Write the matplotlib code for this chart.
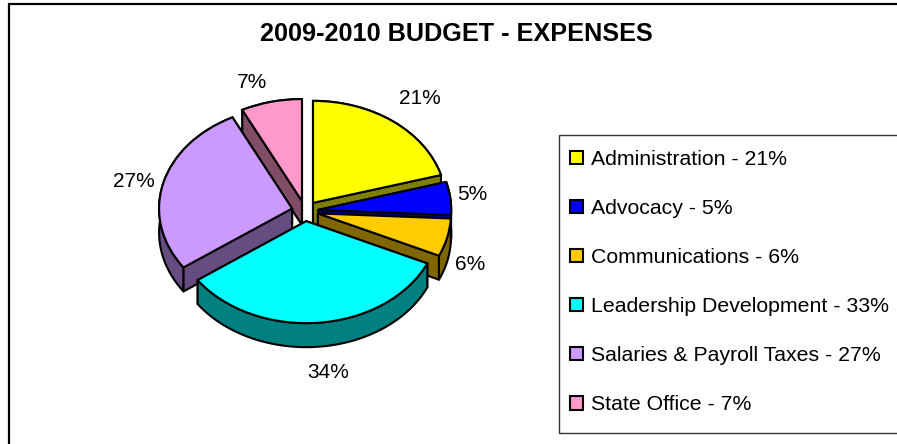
"""Exploded 3D-look pie of the 2009-2010 budget expenses."""

import matplotlib

matplotlib.use("Agg")
from matplotlib import pyplot as plt
from matplotlib.patches import Patch, Polygon, Rectangle
import numpy as np

# ------------------- Chart data ----------------------

CATEGORIES = [
    "Administration",
    "Advocacy",
    "Communications",
    "Leadership Development",
    "Salaries & Payroll Taxes",
    "State Office",
]
VALUES = [20.6, 5.2, 6.0, 33.4, 27.4, 7.4]  # Slice sizes
PIE_PERCENTS = [21, 5, 6, 34, 27, 7]  # As printed next to the pie
LEGEND_PERCENTS = [21, 5, 6, 33, 27, 7]  # The legend rounds Leadership Development down
TITLE = "2009-2010 BUDGET - EXPENSES"

# ------------------- Style settings ----------------------

TOP_COLORS = ["#ffff00", "#0000ff", "#ffcc00", "#00ffff", "#cc99ff", "#ff99cc"]
SIDE_COLORS = ["#808000", "#000080", "#806600", "#008080", "#664c80", "#804c66"]
DRAW_ORDER = [0, 5, 1, 4, 2, 3]  # Back to front
LABEL_PIXELS = [(420, 99), (472, 194), (470, 264), (328, 372), (134, 181), (252, 82)]

WIDTH, HEIGHT = 897, 444
CENTER_X, CENTER_Y = 305, 211  # Pie centre in pixels
RADIUS_X, RADIUS_Y = 133, 102  # Pixels per pie radius
DEPTH = 24 / RADIUS_Y  # Extrusion in data units
LINE_WIDTH = 1.5
FONT_SIZE = 15
LEGEND_FONT_SIZE = 15.35


def to_data(x_pixel: float, y_pixel: float) -> tuple[float, float]:
    """Convert picture pixels (y down) to pie data coordinates."""
    return (x_pixel - CENTER_X) / RADIUS_X, (CENTER_Y - y_pixel) / RADIUS_Y


def add_sides(ax, wedge, color: str, zorder: float) -> None:
    """Draw the extruded radial faces and rim of one pie wedge."""
    cx, cy = wedge.center
    theta = np.radians(np.linspace(wedge.theta1, wedge.theta2, 80))
    rim_x = cx + wedge.r * np.cos(theta)
    rim_y = cy + wedge.r * np.sin(theta)

    faces = [
        (np.array([cx, rim_x[0]]), np.array([cy, rim_y[0]])),
        (np.array([cx, rim_x[-1]]), np.array([cy, rim_y[-1]])),
        (rim_x, rim_y),
    ]
    # Faces further back go first so hidden edges do not show through
    faces.sort(key=lambda face: -face[1].mean())
    for xs, ys in faces:
        outline = np.column_stack(
            [np.r_[xs, xs[::-1]], np.r_[ys, ys[::-1] - DEPTH]]
        )
        ax.add_patch(
            Polygon(
                outline,
                closed=True,
                facecolor=color,
                edgecolor="black",
                linewidth=LINE_WIDTH,
                joinstyle="round",
                zorder=zorder,
            )
        )


plt.rcParams["font.family"] = ["Liberation Sans", "DejaVu Sans"]
fig = plt.figure(figsize=(WIDTH / 100, HEIGHT / 100), dpi=100)
ax = fig.add_axes([0, 0, 1, 1])

wedges, texts = ax.pie(
    VALUES,
    colors=TOP_COLORS,
    labels=[f"{v}%" for v in PIE_PERCENTS],
    explode=[0.1] * len(VALUES),
    startangle=90,
    counterclock=False,
    wedgeprops={"edgecolor": "black", "linewidth": LINE_WIDTH},
    textprops={"fontsize": FONT_SIZE, "color": "black"},
)
ax.set_aspect("auto")
ax.set_xlim(*[to_data(x, 0)[0] for x in (0, WIDTH)])
ax.set_ylim(*[to_data(0, y)[1] for y in (HEIGHT, 0)])

for order, index in enumerate(DRAW_ORDER):
    add_sides(ax, wedges[index], SIDE_COLORS[index], 2 + 2 * order)
    wedges[index].set_zorder(3 + 2 * order)

for text, (x_pixel, y_pixel) in zip(texts, LABEL_PIXELS):
    text.set_position(to_data(x_pixel, y_pixel))
    text.set_horizontalalignment("center")
    text.set_verticalalignment("center")

# Outer chart frame: only its top and left edges fall inside the picture
fig.add_artist(
    Rectangle(
        (8.5 / WIDTH, -20 / HEIGHT),
        (WIDTH + 20) / WIDTH,
        (HEIGHT + 16) / HEIGHT,
        transform=fig.transFigure,
        facecolor="none",
        edgecolor="black",
        linewidth=1.6,
    )
)

ax.text(
    *to_data(456, 33.5),
    TITLE,
    fontsize=18.2,
    fontweight="bold",
    ha="center",
    va="center",
)

# Legend box runs off the right side of the picture
fig.add_artist(
    Rectangle(
        (558.5 / WIDTH, (HEIGHT - 433) / HEIGHT),
        (WIDTH - 500) / WIDTH,
        298 / HEIGHT,
        transform=fig.transFigure,
        facecolor="white",
        edgecolor="#333333",
        linewidth=1.0,
    )
)

handles = [
    Patch(facecolor=color, edgecolor="black", linewidth=LINE_WIDTH) for color in TOP_COLORS
]
labels = [f"{name} - {pct}%" for name, pct in zip(CATEGORIES, LEGEND_PERCENTS)]
fig.legend(
    handles,
    labels,
    loc="upper left",
    bbox_to_anchor=(570 / WIDTH, (HEIGHT - 150) / HEIGHT),
    fontsize=LEGEND_FONT_SIZE,
    frameon=False,
    handlelength=0.6,
    handleheight=0.6,
    handletextpad=0.4,
    labelspacing=1.41,
    borderpad=0,
    borderaxespad=0,
)

fig.savefig("out.png", dpi=100, facecolor="white")
